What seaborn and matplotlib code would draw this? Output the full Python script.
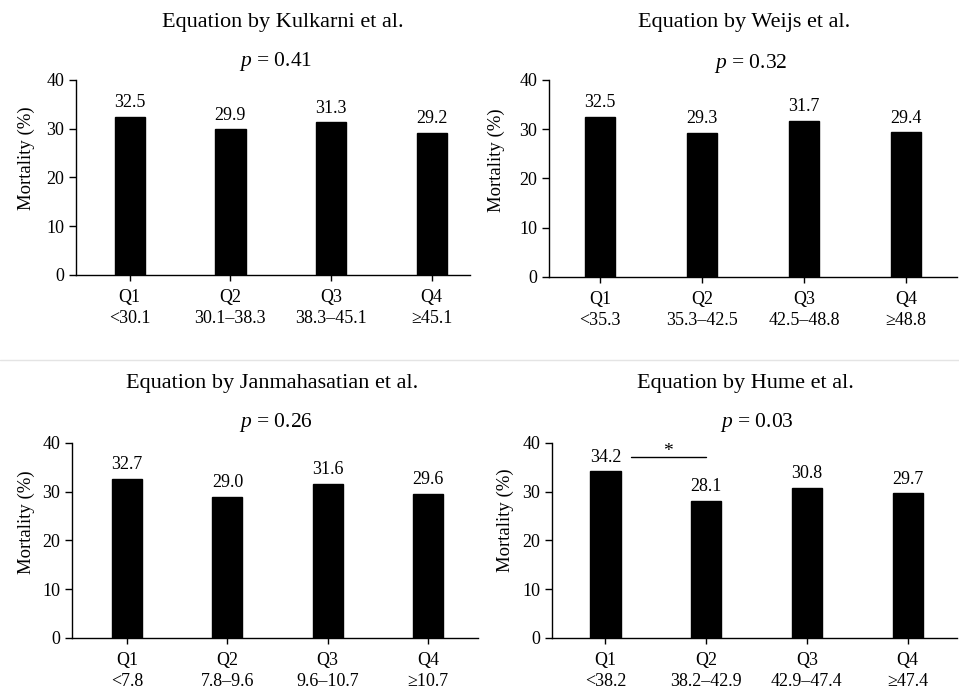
import matplotlib
matplotlib.use("Agg")
import matplotlib.pyplot as plt
import seaborn as sns
import pandas as pd

# === Data ===
quartiles = ["Q1", "Q2", "Q3", "Q4"]

titles = [
    "Equation by Kulkarni et al.",
    "Equation by Weijs et al.",
    "Equation by Janmahasatian et al.",
    "Equation by Hume et al.",
]
p_values = ["0.41", "0.32", "0.26", "0.03"]

ranges_kulkarni = ["<30.1", "30.1\u201338.3", "38.3\u201345.1", "\u226545.1"]
ranges_weijs = ["<35.3", "35.3\u201342.5", "42.5\u201348.8", "\u226548.8"]
ranges_janma = ["<7.8", "7.8\u20139.6", "9.6\u201310.7", "\u226510.7"]
ranges_hume = ["<38.2", "38.2\u201342.9", "42.9\u201347.4", "\u226547.4"]

mort_kulkarni = [32.5, 29.9, 31.3, 29.2]
mort_weijs = [32.5, 29.3, 31.7, 29.4]
mort_janma = [32.7, 29.0, 31.6, 29.6]
mort_hume = [34.2, 28.1, 30.8, 29.7]

all_ranges = [ranges_kulkarni, ranges_weijs, ranges_janma, ranges_hume]
all_mort = [mort_kulkarni, mort_weijs, mort_janma, mort_hume]

# === Style ===
sns.set_style("ticks")
plt.rcParams["font.family"] = ["Liberation Serif", "DejaVu Serif"]
plt.rcParams["mathtext.fontset"] = "custom"
plt.rcParams["mathtext.it"] = "Liberation Serif:italic"
plt.rcParams["mathtext.rm"] = "Liberation Serif"
for key in ["text.color", "axes.labelcolor", "xtick.color", "ytick.color", "axes.edgecolor"]:
    plt.rcParams[key] = "black"

fig = plt.figure(figsize=(9.59, 6.93), dpi=100)

# axes boxes [left, bottom, width, height] in figure fractions
boxes = [
    [0.0792, 0.6032, 0.4108, 0.2814],
    [0.5725, 0.6003, 0.4254, 0.2843],
    [0.0751, 0.0794, 0.4234, 0.2814],
    [0.5756, 0.0794, 0.4223, 0.2814],
]
xlims = [(-0.535, 3.38), (-0.5, 3.5), (-0.55, 3.5), (-0.53, 3.49)]
ylabel_pos = [(-0.104, 0.60), (-0.107, 0.594), (-0.091, 0.595), (-0.095, 0.605)]
title_x = [0.295, 0.776, 0.284, 0.777]
title_y = [0.968, 0.968, 0.446, 0.447]
p_x = [0.287, 0.783, 0.288, 0.789]
p_y = [0.911, 0.909, 0.391, 0.391]

for i in range(4):
    ax = fig.add_axes(boxes[i])
    df = pd.DataFrame({"quartile": quartiles, "mortality": all_mort[i]})
    sns.barplot(data=df, x="quartile", y="mortality", color="black",
                width=0.3, edgecolor="black", ax=ax)
    ax.set_xlim(*xlims[i])
    ax.set_ylim(0, 40)
    ax.set_yticks([0, 10, 20, 30, 40])
    ax.set_xticks(range(4))
    ax.set_xticklabels([f"{q}\n{r}" for q, r in zip(quartiles, all_ranges[i])],
                       fontsize=13, linespacing=1.3)
    ax.tick_params(axis="y", labelsize=13, length=5, width=1)
    ax.tick_params(axis="x", length=4, width=1, pad=6)
    ax.set_xlabel("")
    ax.set_ylabel("Mortality (%)", fontsize=13.5)
    ax.yaxis.set_label_coords(*ylabel_pos[i])
    sns.despine(ax=ax)
    ax.spines["left"].set_linewidth(1)
    ax.spines["bottom"].set_linewidth(1)

    for x, v in enumerate(all_mort[i]):
        ax.annotate(f"{v:.1f}", (x, v), xytext=(0, 4), textcoords="offset points",
                    ha="center", va="bottom", fontsize=13)

    fig.text(title_x[i], title_y[i], titles[i], ha="center", va="center", fontsize=16)
    fig.text(p_x[i], p_y[i], f"$p$ = {p_values[i]}", ha="center", va="center", fontsize=15.5)

    if i == 3:
        ax.plot([0.25, 1.0], [37.1, 37.1], color="black", lw=1)
        ax.text(0.62, 36.6, "*", ha="center", va="bottom", fontsize=14)

# separator between rows
fig.add_artist(plt.Line2D([0, 1], [0.481, 0.481], color="#e4e4e4", lw=1))

fig.savefig("out.png", dpi=100)
